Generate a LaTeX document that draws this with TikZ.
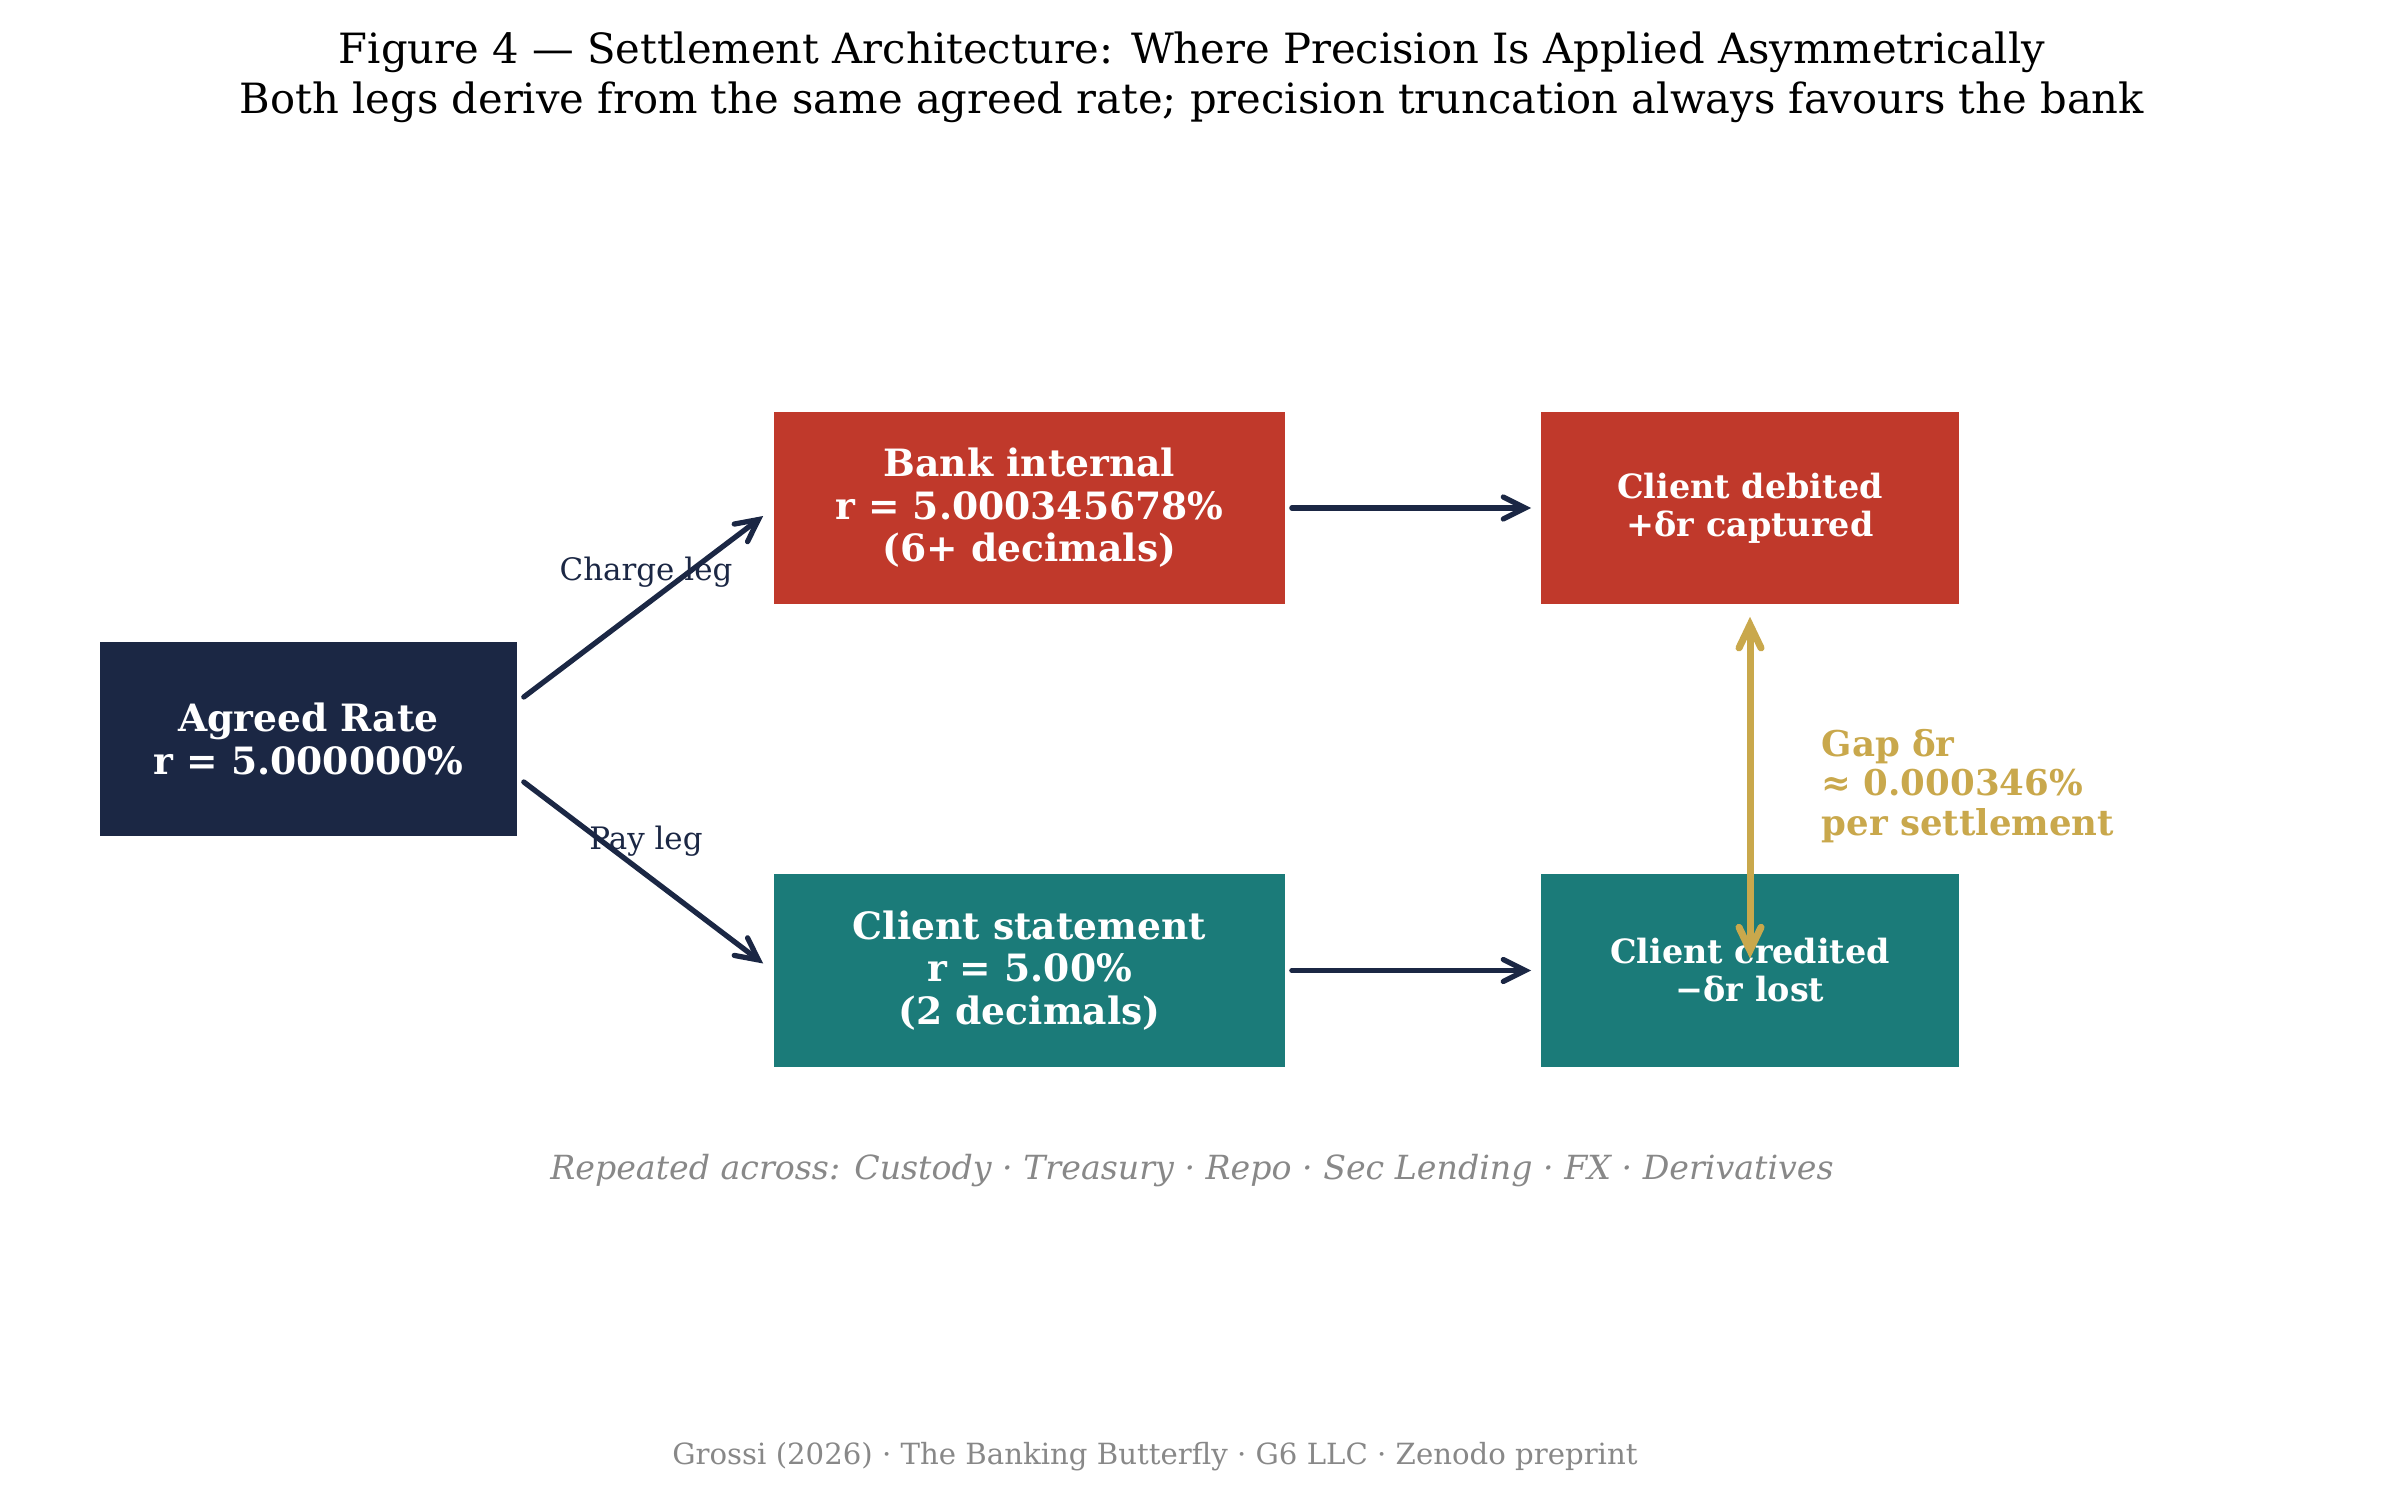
\documentclass[tikz,border=0pt]{standalone}
\usepackage{fontspec}
\setmainfont{DejaVu Serif}
\usetikzlibrary{arrows.meta,calc}
\definecolor{stlNavy}{HTML}{1B2744}
\definecolor{stlRed}{HTML}{C0392B}
\definecolor{stlTeal}{HTML}{1B7B79}
\definecolor{stlGold}{HTML}{C9A84C}
\definecolor{stlGrey}{HTML}{888888}
\tikzset{
  >={Straight Barb[length=2.2mm,width=2.2mm,line cap=round]},
  rate/.style={fill=stlNavy, text=white, align=center, font=\fontsize{10.7}{12.3}\selectfont\bfseries,
              minimum width=4.17cm, minimum height=1.93cm, inner sep=0pt},
  bankbox/.style={fill=stlRed, text=white, align=center, font=\fontsize{10.7}{12.1}\selectfont\bfseries,
              minimum width=5.11cm, minimum height=1.92cm, inner sep=0pt},
  clientbox/.style={fill=stlTeal, text=white, align=center, font=\fontsize{10.7}{12.1}\selectfont\bfseries,
              minimum width=5.11cm, minimum height=1.92cm, inner sep=0pt},
  outbox/.style={text=white, align=center, font=\fontsize{9.5}{10.8}\selectfont\bfseries,
              minimum width=4.18cm, minimum height=1.92cm, inner sep=0pt},
  lbl/.style={font=\fontsize{8.8}{10}\selectfont, text=stlNavy, inner sep=0pt},
  gap/.style={font=\fontsize{10.1}{11.2}\selectfont\bfseries, text=stlGold, align=left, inner sep=0pt},
  note/.style={font=\fontsize{9.45}{11}\selectfont\itshape, text=stlGrey, inner sep=0pt},
  foot/.style={font=\fontsize{8.3}{9}\selectfont, text=stlGrey, inner sep=0pt},
  flow/.style={->, draw=stlNavy, line width=1.5pt, line cap=round},
  delta/.style={<->, draw=stlGold, line width=2pt, line cap=round},
}
\begin{document}
\begin{tikzpicture}[x=0.01cm, y=-0.01cm]
    \useasboundingbox (0,0) rectangle (2385,1503);
    % title
    \node[align=center, inner sep=0pt, font=\fontsize{11.85}{14.2}\selectfont] (title) at (1192,77)
      {Figure 4 — Settlement Architecture: Where Precision Is Applied Asymmetrically\\
       Both legs derive from the same agreed rate; precision truncation always favours the bank};
    % boxes
    \node[rate] (agreed) at (308.5,739) {Agreed Rate\\r = 5.000000\%};
    \node[bankbox] (bank) at (1029.5,508) {Bank internal\\r = 5.000345678\%\\(6+ decimals)};
    \node[clientbox] (stmt) at (1029.5,970.5) {Client statement\\r = 5.00\%\\(2 decimals)};
    \node[outbox, fill=stlRed] (debited) at (1750,508) {Client debited\\+δr captured};
    \node[outbox, fill=stlTeal] (credited) at (1750,970.5) {Client credited\\−δr lost};
    % legs
    \draw[flow] ($(agreed.east)+(6,-42)$) -- ($(bank.west)+(-10,8)$);
    \draw[flow] ($(agreed.east)+(6,43)$) -- ($(stmt.west)+(-10,-7)$);
    \node[lbl] (chargelbl) at (646,572) {Charge leg};
    \node[lbl] (paylbl) at (646,841) {Pay leg};
    \draw[flow, shorten <=0.06cm, shorten >=0.09cm] (bank.east) -- (debited.west);
    \draw[flow, shorten <=0.06cm, shorten >=0.09cm] (stmt.east) -- (credited.west);
    % gap
    \draw[delta, >={Straight Barb[length=2.3mm,width=2.2mm,line cap=round]}, shorten <=0.12cm, shorten >=0.12cm]
      (debited.south) -- (credited.center);
    \node[gap, anchor=west] (gaplbl) at (1821,786) {Gap δr\\≈ 0.000346\%\\per settlement};
    % notes
    \node[note] (repeated) at (1192,1171) {Repeated across: Custody · Treasury · Repo · Sec Lending · FX · Derivatives};
    \node[foot] (credit) at (1155,1457) {Grossi (2026) · The Banking Butterfly · G6 LLC · Zenodo preprint};
\end{tikzpicture}
\end{document}
